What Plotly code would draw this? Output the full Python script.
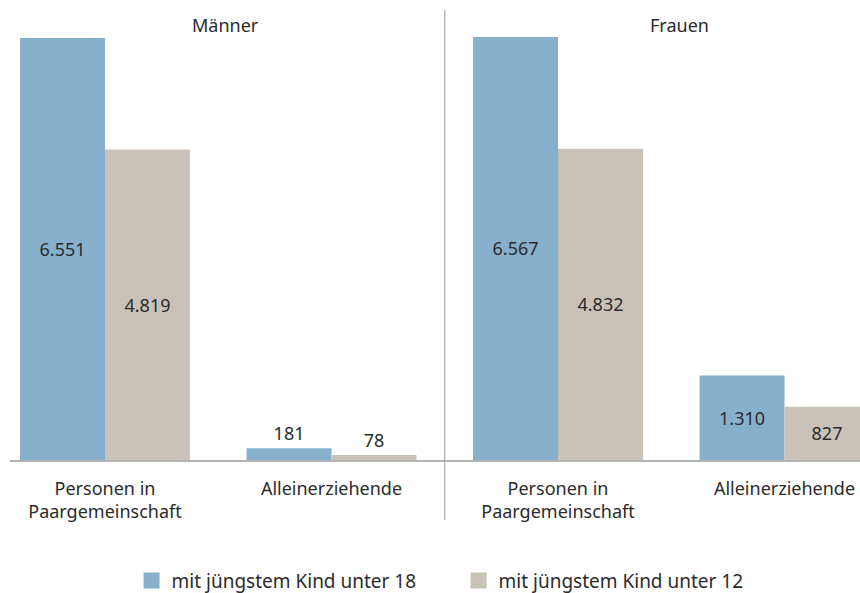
import plotly.graph_objects as go

categories = ["Personen in<br>Paargemeinschaft", "Alleinerziehende",
              "Personen in<br>Paargemeinschaft", "Alleinerziehende"]
panels = ["Männer", "Frauen"]
series_names = ["mit jüngstem Kind unter 18", "mit jüngstem Kind unter 12"]
values_u18 = [6551, 181, 6567, 1310]
values_u12 = [4819, 78, 4832, 827]
label_pos_u18 = ["inside", "outside", "inside", "inside"]
label_pos_u12 = ["inside", "outside", "inside", "inside"]

colors = ["#86b0cc", "#c9c2b9"]
FONT = "Noto Sans, Open Sans, sans-serif"
TXT = "#2b2b2b"
FS = 18


def de(v):
    return f"{v:,}".replace(",", ".")


xs = list(range(len(categories)))
fig = go.Figure()
for name, vals, pos, col in [(series_names[0], values_u18, label_pos_u18, colors[0]),
                              (series_names[1], values_u12, label_pos_u12, colors[1])]:
    fig.add_trace(go.Bar(
        x=xs, y=vals, name=name, marker=dict(color=col, line=dict(width=0)),
        text=[de(v) for v in vals], textposition=pos, insidetextanchor="middle",
        textfont=dict(family=FONT, size=FS, color=TXT),
        outsidetextfont=dict(family=FONT, size=FS, color=TXT),
        insidetextfont=dict(family=FONT, size=FS, color=TXT),
        textangle=0, constraintext="none",
        cliponaxis=True, showlegend=False, hoverinfo="skip",
    ))
    # legend proxies with larger square symbols
    fig.add_trace(go.Scatter(
        x=[None], y=[None], mode="markers", name=name,
        marker=dict(symbol="square", size=22, color=col), showlegend=True,
    ))

fig.update_layout(
    barmode="group", bargap=0.25, bargroupgap=0,
    width=860, height=593,
    margin=dict(l=10, r=0, t=9, b=133, autoexpand=False),
    paper_bgcolor="white", plot_bgcolor="white",
    font=dict(family=FONT, size=FS, color=TXT),
    hovermode=False,
    legend=dict(orientation="h", x=0.143, xanchor="left", y=-0.2676, yanchor="middle",
                font=dict(family=FONT, size=19, color=TXT), entrywidth=282,
                itemwidth=30, bgcolor="rgba(0,0,0,0)"),
)
fig.update_xaxes(
    range=[-0.4194, 3.3333], tickvals=xs, ticktext=categories,
    showline=True, linecolor="#b3b3b3", linewidth=2, showgrid=False, zeroline=False,
    ticks="", ticklabelstandoff=11, tickfont=dict(family=FONT, size=FS, color=TXT),
    fixedrange=True, automargin=False,
)
fig.update_yaxes(range=[0, 7000], visible=False, fixedrange=True, automargin=False)

# divider between panels
fig.add_shape(type="line", xref="x", yref="paper", x0=1.5, x1=1.5, y0=-0.133, y1=0.998,
              line=dict(color="#9a9a9a", width=1))

# panel titles
for px, title in zip([0.254, 0.788], panels):
    fig.add_annotation(text=title, xref="paper", yref="paper", x=px, y=0.9645,
                       showarrow=False, font=dict(family=FONT, size=FS, color=TXT),
                       xanchor="center", yanchor="middle")

fig.write_html(
    "out.html",
    config={"displayModeBar": False, "staticPlot": True},
    post_script="document.body.style.margin='0';document.documentElement.style.margin='0';"
                "document.body.style.overflow='hidden';",
)
